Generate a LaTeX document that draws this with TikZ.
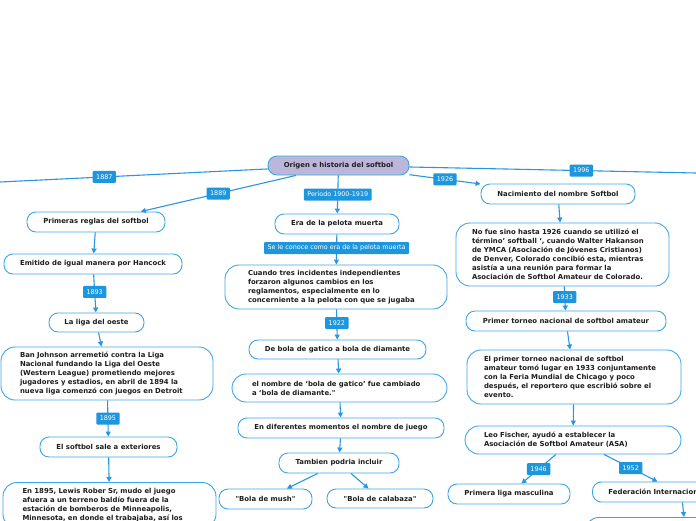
\documentclass[tikz,border=0pt]{standalone}
\usepackage{fontspec}
\usetikzlibrary{arrows.meta}
\newfontfamily\mmdejavu{DejaVu Sans}
\newcommand\mmnodefont{\mmdejavu\bfseries\fontsize{6.9}{9}\selectfont}
\newcommand\mmlabfont{\mmdejavu\fontsize{6.4}{7}\selectfont}
\definecolor{lineblue}{RGB}{41,151,224}
\definecolor{nodeblue}{RGB}{60,165,232}
\definecolor{labblue}{RGB}{30,150,222}
\definecolor{rootfill}{RGB}{188,183,218}
\definecolor{txt}{RGB}{30,30,30}
\tikzset{
  topic/.style={draw=nodeblue, line width=0.9pt, fill=white, rounded corners=9pt,
    font=\mmnodefont, text=txt, inner sep=0pt, minimum height=20pt},
  bigtopic/.style={topic, rounded corners=14pt, align=left},
  rootbox/.style={topic, fill=rootfill},
  lab/.style={fill=labblue, text=white, font=\mmlabfont, rounded corners=1pt,
    inner xsep=3.5pt, inner ysep=0pt, minimum height=12pt},
  conn/.style={draw=lineblue, line width=1.1pt},
  arr/.style={conn, -{Triangle[length=5pt,width=5pt]}},
}
\begin{document}
\begin{tikzpicture}[x=1pt,y=-1pt]
\useasboundingbox[fill=white] (0,0) rectangle (696,520);
% root
\node[rootbox, minimum width=141pt, minimum height=19pt] (root) at (338.5,165.5) {Origen e historia del softbol};
\coordinate (lend) at (0,182);
\coordinate (rend) at (696,173);
% left column
\node[topic, minimum width=138pt] (prim) at (96,222) {Primeras reglas del softbol};
\node[topic, minimum width=178pt] (emit) at (93,264) {Emitido de igual manera por Hancock};
\node[topic, minimum width=95pt, minimum height=19pt] (liga) at (96.5,322.5) {La liga del oeste};
\node[bigtopic, minimum width=212pt, minimum height=53pt, text width=174pt] (ban) at (107,373.5)
  {Ban Johnson arremetió contra la Liga\\Nacional fundando la Liga del Oeste\\(Western League) prometiendo mejores\\jugadores y estadios, en abril de 1894 la\\nueva liga comenzó con juegos en Detroit};
\node[topic, minimum width=137pt] (sale) at (108.5,447) {El softbol sale a exteriores};
\node[bigtopic, anchor=north, minimum width=213pt, text width=174pt, inner ysep=6pt] (en95) at (109.5,482)
  {En 1895, Lewis Rober Sr, mudo el juego\\afuera a un terreno baldío fuera de la\\estación de bomberos de Minneapolis,\\Minnesota, en donde el trabajaba, así los};
% middle column
\node[topic, minimum width=124pt] (era) at (337,224) {Era de la pelota muerta};
\node[bigtopic, minimum width=222pt, minimum height=44pt, text width=176pt] (cuando) at (336,287)
  {Cuando tres incidentes independientes\\forzaron algunos cambios en los\\reglamentos, especialmente en lo\\concerniente a la pelota con que se jugaba};
\node[topic, minimum width=177pt, minimum height=19pt] (debola) at (337.5,349.5) {De bola de gatico a bola de diamante};
\node[bigtopic, minimum width=215pt, minimum height=28pt, text width=175pt] (elnom) at (339.5,388)
  {el nombre de ‘bola de gatico’ fue cambiado\\a ‘bola de diamante."};
\node[topic, minimum width=206pt] (endif) at (341,428) {En diferentes momentos el nombre de juego};
\node[topic, minimum width=120pt] (tamb) at (339,463) {Tambien podria incluir};
\node[topic, minimum width=93pt] (mush) at (265.5,499) {"Bola de mush"};
\node[topic, minimum width=106pt, minimum height=19pt] (cala) at (380,498.5) {"Bola de calabaza"};
% right column
\node[topic, minimum width=154pt] (nac) at (558,194) {Nacimiento del nombre Softbol};
\node[bigtopic, minimum width=213pt, minimum height=63pt, text width=181pt] (nofue) at (562.5,254.5)
  {No fue sino hasta 1926 cuando se utilizó el\\término’ softball ‘, cuando Walter Hakanson\\de YMCA (Asociación de Jóvenes Cristianos)\\de Denver, Colorado concibió esta, mientras\\asistía a una reunión para formar la\\Asociación de Softbol Amateur de Colorado.};
\node[topic, minimum width=200pt] (primt) at (566,321) {Primer torneo nacional de softbol amateur};
\node[bigtopic, minimum width=214pt, minimum height=54pt, text width=180pt] (elprim) at (574,377)
  {El primer torneo nacional de softbol\\amateur tomó lugar en 1933 conjuntamente\\con la Feria Mundial de Chicago y poco\\después, el reportero que escribió sobre el\\evento.};
\node[bigtopic, minimum width=216pt, minimum height=28pt, text width=178pt] (leo) at (573,440)
  {Leo Fischer, ayudó a establecer la\\Asociación de Softbol Amateur (ASA)};
\node[topic, minimum width=122pt] (primliga) at (509,494) {Primera liga masculina};
\node[topic, anchor=west, minimum width=138pt, align=left, text width=106pt] (fed) at (592,492) {Federación Internacional};
\node[topic, anchor=north, minimum width=198pt, minimum height=30pt, rounded corners=14pt] (fedb) at (684,517) {};
% connectors
\draw[conn] (root) -- node[lab, pos=0.61] (l1887) {1887} (lend);
\draw[conn] (root) -- node[lab, pos=0.6] (l1996) {1996} (rend);
\draw[arr] (root) -- node[lab] (l1889) {1889} (prim);
\draw[arr] (root) -- node[lab] (l1900) {Periodo 1900-1919} (era);
\draw[arr] (root) -- node[lab] (l1926) {1926} (nac);
\draw[arr] (prim) -- (emit);
\draw[arr] (emit) -- node[lab, pos=0.46] (l1893) {1893} (liga);
\draw[arr] (liga) -- (ban);
\draw[arr] (ban) -- node[lab] (l1895) {1895} (sale);
\draw[arr] (sale) -- (en95);
\draw[arr] (era) -- node[lab, pos=0.45] (lmuerta) {Se le conoce como era de la pelota muerta} (cuando);
\draw[arr] (cuando) -- node[lab, pos=0.45] (l1922) {1922} (debola);
\draw[arr] (debola) -- (elnom);
\draw[arr] (elnom) -- (endif);
\draw[arr] (endif) -- (tamb);
\draw[arr] (tamb) -- (mush);
\draw[arr] (tamb) -- (cala);
\draw[arr] (nac) -- (nofue);
\draw[arr] (nofue) -- node[lab, pos=0.44] (l1933) {1933} (primt);
\draw[arr] (primt) -- (elprim);
\draw[arr] (elprim) -- (leo);
\draw[arr] (leo) -- node[lab] (l1946) {1946} (primliga);
\draw[arr] ([xshift=31pt]leo.south) -- node[lab] (l1952) {1952} ([xshift=-4pt]fed.north);
\draw[arr] ([xshift=21pt]fed.south) -- (fedb.north);
\end{tikzpicture}
\end{document}
